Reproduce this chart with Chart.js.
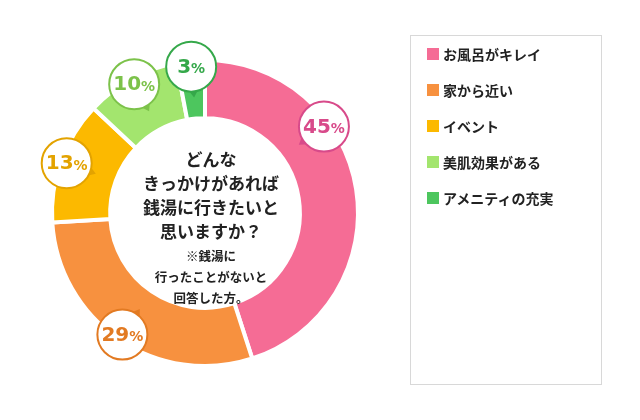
<!DOCTYPE html>
<html><head><meta charset="utf-8">
<script src="https://cdn.jsdelivr.net/npm/chart.js@4"></script>
<style>
body{margin:0;background:#fff;font-family:"Noto Sans CJK JP",sans-serif;}
#wrap{position:relative;width:640px;height:420px;}
#legend{position:absolute;left:410px;top:35px;width:192px;height:350px;border:1.5px solid #d8d8d8;box-sizing:border-box;padding:0 0 0 16px;}
.item{display:flex;align-items:center;height:36px;font-size:14px;font-weight:bold;color:#222;}
.sw{width:12px;height:12px;margin-right:4px;}
</style></head>
<body><div id="wrap"><canvas id="c" width="640" height="420"></canvas><div id="legend"></div></div>
<script>
const categories = ['お風呂がキレイ', '家から近い', 'イベント', '美肌効果がある', 'アメニティの充実'];
const values = [45, 29, 13, 10, 3];
const fillColors = ['#f56c95', '#f7913f', '#fcb900', '#a3e56e', '#4dc65e'];
const textColors = ['#d84a8a', '#e27a22', '#e3a300', '#7cc24a', '#35a84a'];
// 45% のラベルだけ少し上にずらす(円周上の割合)
const labelShift = [-0.075, 0, 0, 0, 0];

const calloutPlugin = {
  id: 'callout',
  afterDraw(chart) {
    const ctx = chart.ctx;
    const arcs = chart.getDatasetMeta(0).data;
    arcs.forEach((arc, i) => {
      const mid = (arc.startAngle + arc.endAngle) / 2 + labelShift[i] * Math.PI * 2;
      const R = arc.outerRadius - 6;
      const x = arc.x + Math.cos(mid) * R, y = arc.y + Math.sin(mid) * R;
      // 三角の矢印
      const toC = Math.atan2(arc.y - y, arc.x - x);
      ctx.fillStyle = textColors[i];
      ctx.beginPath();
      ctx.moveTo(x + Math.cos(toC) * 31, y + Math.sin(toC) * 31);
      ctx.lineTo(x + Math.cos(toC + 0.25) * 23, y + Math.sin(toC + 0.25) * 23);
      ctx.lineTo(x + Math.cos(toC - 0.25) * 23, y + Math.sin(toC - 0.25) * 23);
      ctx.fill();
      ctx.beginPath();
      ctx.arc(x, y, 25, 0, Math.PI * 2);
      ctx.fillStyle = '#fff';
      ctx.fill();
      ctx.lineWidth = 2;
      ctx.strokeStyle = textColors[i];
      ctx.stroke();
      ctx.fillStyle = textColors[i];
      ctx.textBaseline = 'middle';
      ctx.font = 'bold 20px "DejaVu Sans"';
      const num = String(values[i]);
      const w1 = ctx.measureText(num).width;
      ctx.font = 'bold 14px "DejaVu Sans"';
      const w2 = ctx.measureText('%').width;
      const sx = x - (w1 + w2) / 2;
      ctx.font = 'bold 20px "DejaVu Sans"';
      ctx.textAlign = 'left';
      ctx.fillText(num, sx, y + 1);
      ctx.font = 'bold 14px "DejaVu Sans"';
      ctx.fillText('%', sx + w1, y + 3);
    });
    // 中央テキスト
    const cx = arcs[0].x + 6;
    ctx.textAlign = 'center';
    ctx.fillStyle = '#222';
    ctx.font = 'bold 17px "Noto Sans CJK JP"';
    ['どんな', 'きっかけがあれば', '銭湯に行きたいと', '思いますか？'].forEach((t, k) => ctx.fillText(t, cx, 160 + k * 24));
    ctx.font = 'bold 12.5px "Noto Sans CJK JP"';
    ['※銭湯に', '行ったことがないと', '回答した方。'].forEach((t, k) => ctx.fillText(t, cx, 256 + k * 21));
  }
};

new Chart(document.getElementById('c'), {
  type: 'doughnut',
  data: { labels: categories, datasets: [{ data: values, backgroundColor: fillColors, borderColor: '#fff', borderWidth: 4 }] },
  options: {
    responsive: false, animation: false, cutout: '62%',
    layout: { padding: { left: 50, right: 280, top: 58, bottom: 52 } },
    plugins: { legend: { display: false }, tooltip: { enabled: false } }
  },
  plugins: [calloutPlugin]
});

document.getElementById('legend').innerHTML = categories.map((c, i) =>
  `<div class="item"><span class="sw" style="background:${fillColors[i]}"></span>${c}</div>`).join('');
</script></body></html>
